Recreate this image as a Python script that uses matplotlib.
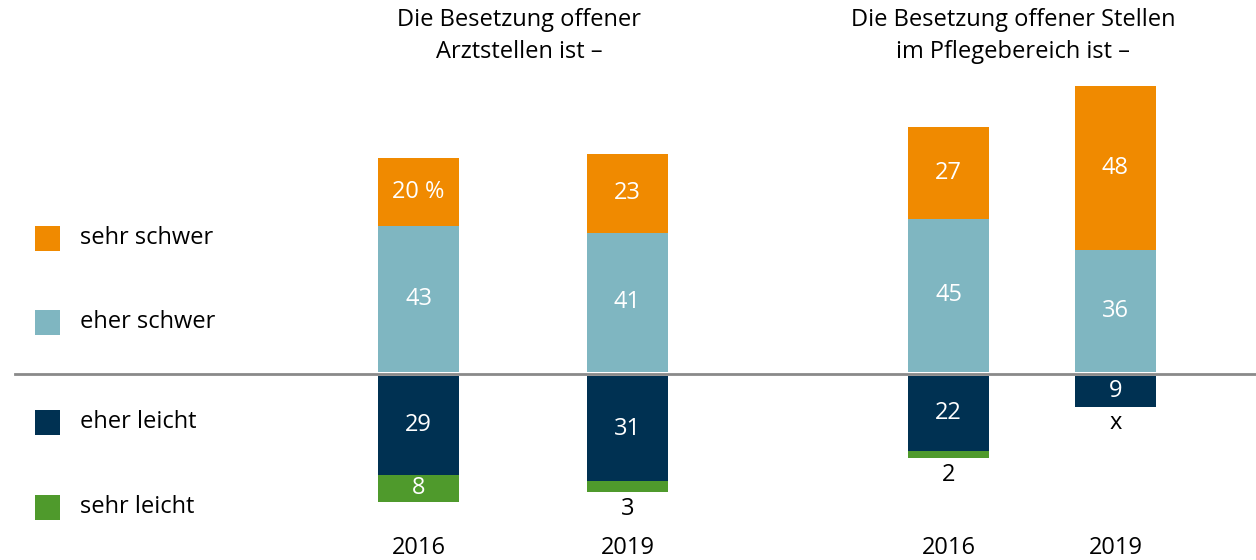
import numpy as np
import matplotlib
matplotlib.use("Agg")
import matplotlib.pyplot as plt
from matplotlib.patches import Rectangle

# data (percent)
years = ["2016", "2019", "2016", "2019"]
sehr_schwer = [20, 23, 27, 48]
eher_schwer = [43, 41, 45, 36]
eher_leicht = [29, 31, 22, 9]
sehr_leicht = [8, 3, 2, np.nan]   # nan = "x"
titles = ["Die Besetzung offener\nArztstellen ist –",
          "Die Besetzung offener Stellen\nim Pflegebereich ist –"]
legend_labels = ["sehr schwer", "eher schwer", "eher leicht", "sehr leicht"]
colors = ["#F08A00", "#7FB6C1", "#003152", "#4F9A2C"]

plt.rcParams['font.family'] = ['Open Sans', 'DejaVu Sans']
FS = 17

W, H = 1256, 560
SCALE = 3.4          # pixels per percent
BASE = 374           # baseline pixel row
Y_TOP = BASE / SCALE
Y_BOT = -(H - BASE) / SCALE
GAP = 0.6

def py(pix):
    return (BASE - pix) / SCALE

fig = plt.figure(figsize=(W / 100, H / 100), dpi=100)
ax = fig.add_axes([0, 0, 1, 1])
ax.set_xlim(0, W)
ax.set_ylim(Y_BOT, Y_TOP)
ax.axis("off")

xpos = [418.5, 627.5, 948.5, 1115.5]
bw = 81

for i, x in enumerate(xpos):
    # upper part
    b = GAP
    for val, col in ((eher_schwer[i], colors[1]), (sehr_schwer[i], colors[0])):
        ax.bar(x, val, bw, bottom=b, color=col, linewidth=0)
        lab = f"{val} %" if (i == 0 and col == colors[0]) else f"{val}"
        ax.text(x, b + val / 2, lab, ha="center", va="center", color="white", fontsize=FS)
        b += val
    # lower part
    b = -GAP
    v = eher_leicht[i]
    ax.bar(x, -v, bw, bottom=b, color=colors[2], linewidth=0)
    ax.text(x, b - v / 2, f"{v}", ha="center", va="center", color="white", fontsize=FS)
    b -= v
    v = sehr_leicht[i]
    if np.isnan(v):
        ax.text(x, b - 1.2, "x", ha="center", va="top", color="black", fontsize=FS)
    else:
        ax.bar(x, -v, bw, bottom=b, color=colors[3], linewidth=0)
        if v >= 5:
            ax.text(x, b - v / 2, f"{v:g}", ha="center", va="center", color="white", fontsize=FS)
        else:
            ax.text(x, b - v - 1.5, f"{v:g}", ha="center", va="top", color="black", fontsize=FS)
    ax.text(x, py(548), years[i], ha="center", va="center", color="black", fontsize=FS)

ax.axhline(0, xmin=15 / W, xmax=1, color="#8a8a8a", linewidth=2)

ax.text(519, py(36), titles[0], ha="center", va="center", fontsize=FS, linespacing=1.4)
ax.text(1013, py(36), titles[1], ha="center", va="center", fontsize=FS, linespacing=1.4)

leg_y = [238, 322, 422, 507]
for lab, col, yy in zip(legend_labels, colors, leg_y):
    ax.add_patch(Rectangle((35, py(yy) - 12.5 / SCALE), 25, 25 / SCALE, color=col, linewidth=0))
    ax.text(80, py(yy), lab, ha="left", va="center", fontsize=FS)

fig.savefig("out.png", dpi=100)
